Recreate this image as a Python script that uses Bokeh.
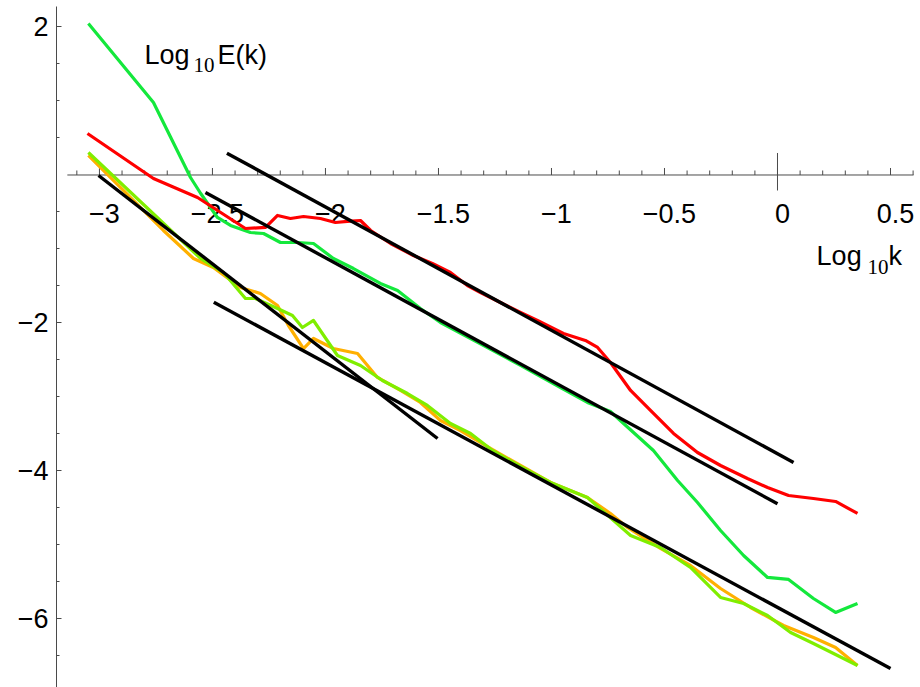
import numpy as np
from bokeh.plotting import figure
from bokeh.models import FixedTicker, Range1d
from bokeh.core.properties import value
from bokeh.embed import file_html
from bokeh.resources import INLINE

# ---- energy spectra: log10 k versus log10 E(k) ----
red_x = [-3.053, -2.761, -2.566, -2.354, -2.265, -2.212, -2.155, -2.097, -2.022, -1.956,
         -1.903, -1.845, -1.800, -1.712, -1.611, -1.527, -1.447, -1.372, -1.314, -1.226,
         -1.137, -1.062, -0.947, -0.850, -0.796, -0.739, -0.650, -0.562, -0.460, -0.354,
         -0.252, -0.133, -0.044, 0.049, 0.159, 0.257, 0.354]
red_y = [0.561, -0.047, -0.304, -0.723, -0.709, -0.547, -0.588, -0.561, -0.588, -0.642,
         -0.628, -0.615, -0.750, -0.926, -1.088, -1.196, -1.318, -1.493, -1.588, -1.723,
         -1.858, -1.966, -2.142, -2.236, -2.331, -2.534, -2.912, -3.182, -3.493, -3.750,
         -3.926, -4.101, -4.223, -4.331, -4.372, -4.412, -4.574]

green_x = [-3.049, -2.761, -2.597, -2.552, -2.478, -2.420, -2.332, -2.274, -2.199, -2.124,
           -2.053, -1.965, -1.876, -1.757, -1.681, -1.580, -1.491, -1.283, -1.137, -0.960,
           -0.841, -0.739, -0.681, -0.549, -0.442, -0.354, -0.252, -0.150, -0.044, 0.049,
           0.159, 0.257, 0.354]
green_y = [2.047, 0.980, -0.034, -0.250, -0.574, -0.682, -0.777, -0.791, -0.912, -0.912,
           -0.926, -1.128, -1.264, -1.466, -1.561, -1.804, -1.993, -2.331, -2.574, -2.872,
           -3.074, -3.196, -3.358, -3.723, -4.128, -4.426, -4.804, -5.142, -5.439, -5.466,
           -5.723, -5.912, -5.791]

orange_x = [-3.049, -2.717, -2.584, -2.496, -2.376, -2.288, -2.212, -2.164, -2.097, -2.053,
            -1.965, -1.858, -1.770, -1.668, -1.580, -1.491, -1.403, -1.270, -1.137, -1.004,
            -0.841, -0.739, -0.664, -0.518, -0.385, -0.252, -0.119, 0.027, 0.159, 0.257,
            0.354]
orange_y = [0.264, -0.750, -1.128, -1.250, -1.520, -1.601, -1.764, -2.034, -2.345, -2.209,
            -2.345, -2.412, -2.736, -2.912, -3.074, -3.318, -3.453, -3.696, -3.926, -4.155,
            -4.358, -4.574, -4.764, -5.047, -5.277, -5.588, -5.845, -6.088, -6.250, -6.385,
            -6.628]

lime_x = [-3.049, -2.730, -2.553, -2.451, -2.354, -2.310, -2.212, -2.146, -2.102, -2.053,
          -1.947, -1.845, -1.748, -1.637, -1.549, -1.447, -1.358, -1.261, -1.137, -1.004,
          -0.841, -0.650, -0.518, -0.385, -0.252, -0.150, -0.044, 0.058, 0.159, 0.248,
          0.354]
lime_y = [0.304, -0.615, -1.128, -1.318, -1.669, -1.669, -1.804, -1.899, -2.061, -1.966,
          -2.439, -2.574, -2.777, -2.953, -3.115, -3.358, -3.493, -3.723, -3.939, -4.155,
          -4.358, -4.872, -5.034, -5.304, -5.709, -5.791, -5.953, -6.182, -6.331, -6.466,
          -6.628]

# power-law reference lines (start / end points)
fit_x0 = [-2.436, -2.531, -3.004, -2.494]
fit_y0 = [0.295, -0.236, -0.007, -1.720]
fit_x1 = [0.071, 0.000, -1.504, 0.500]
fit_y1 = [-3.885, -4.443, -3.561, -6.670]

# axis ticks
x_major = [-3.0, -2.5, -2.0, -1.5, -1.0, -0.5, 0.0, 0.5]
x_labels = ["\u22123", "\u22122.5", "\u22122", "\u22121.5", "\u22121", "\u22120.5", "0", "0.5"]
y_major = [2, -2, -4, -6]
y_labels = ["2", "\u22122", "\u22124", "\u22126"]

FONT = value("Liberation Sans")
SERIF = value("Liberation Serif")
AXIS_COLOR = "#4a4a4a"

p = figure(width=920, height=687,
           x_range=Range1d(-3.190, 0.6327), y_range=Range1d(-6.926, 2.277),
           output_backend="svg", toolbar_location=None,
           x_axis_location=None, y_axis_location="left",
           min_border_left=56, min_border_right=0, min_border_top=6, min_border_bottom=0)
p.grid.visible = False
p.outline_line_color = None
p.background_fill_color = "white"
p.border_fill_color = "white"

# left vertical axis
y_minor = [v for v in np.arange(-6.5, 2.01, 0.5) if round(v, 2) not in (2.0, 0.0, -2.0, -4.0, -6.0)]
p.yaxis.ticker = FixedTicker(ticks=y_major, minor_ticks=[float(v) for v in y_minor])
p.yaxis.major_label_overrides = {v: s for v, s in zip(y_major, y_labels)}
p.yaxis.axis_line_color = AXIS_COLOR
p.yaxis.axis_line_width = 1
p.yaxis.major_tick_line_color = AXIS_COLOR
p.yaxis.minor_tick_line_color = AXIS_COLOR
p.yaxis.major_tick_in = 5
p.yaxis.major_tick_out = 0
p.yaxis.minor_tick_in = 3
p.yaxis.minor_tick_out = 0
p.yaxis.major_label_standoff = 8
p.yaxis.major_label_text_font = "Liberation Sans"
p.yaxis.major_label_text_font_size = "27px"
p.yaxis.major_label_text_color = "black"

# horizontal axis through log10 E = 0
px_to_x = 1.0 / 226.0
px_to_y = 1.0 / 74.0
p.segment(x0=[-3.142], y0=[0], x1=[0.602], y1=[0], line_color=AXIS_COLOR, line_width=1)
x_minor = [float(v) for v in np.arange(-3.1, 0.61, 0.1) if min(abs(v - m) for m in x_major) > 1e-6]
p.segment(x0=x_minor, y0=[0] * len(x_minor), x1=x_minor, y1=[4.5 * px_to_y] * len(x_minor),
          line_color=AXIS_COLOR, line_width=1)
p.segment(x0=x_major, y0=[0] * len(x_major), x1=x_major, y1=[7 * px_to_y] * len(x_major),
          line_color=AXIS_COLOR, line_width=1)
# origin marker
p.segment(x0=[0], y0=[22 * px_to_y], x1=[0], y1=[-15.5 * px_to_y], line_color=AXIS_COLOR, line_width=1)
p.text(x=x_major, y=[-39 * px_to_y] * len(x_major), text=x_labels,
       text_font=FONT, text_font_size="27px", text_align="center",
       text_baseline="alphabetic", text_color="black", x_offset=5)

# axis titles with subscripts
p.text(x=[-2.801, 0.173], y=[1.628, -1.101], text=["Log", "Log"], text_font=FONT,
       text_font_size="27px", text_align="left", text_baseline="alphabetic", text_color="black")
p.text(x=[-2.584, 0.398], y=[1.493, -1.246], text=["10", "10"], text_font=SERIF,
       text_font_size="21px", text_align="left", text_baseline="alphabetic", text_color="black")
p.text(x=[-2.478, 0.491], y=[1.628, -1.101], text=["E(k)", "k"], text_font=FONT,
       text_font_size="27px", text_align="left", text_baseline="alphabetic", text_color="black")

# spectra
p.line(green_x, green_y, line_color="#14E83C", line_width=3.2, line_join="round")
p.line(red_x, red_y, line_color="#FF0000", line_width=3.2, line_join="round")
p.line(orange_x, orange_y, line_color="#FFB000", line_width=3.2, line_join="round")
p.line(lime_x, lime_y, line_color="#80EE00", line_width=3.2, line_join="round")

# reference slopes
p.segment(x0=fit_x0, y0=fit_y0, x1=fit_x1, y1=fit_y1, line_color="black", line_width=3.4)

open("out.html", "w").write(file_html(p, INLINE))
